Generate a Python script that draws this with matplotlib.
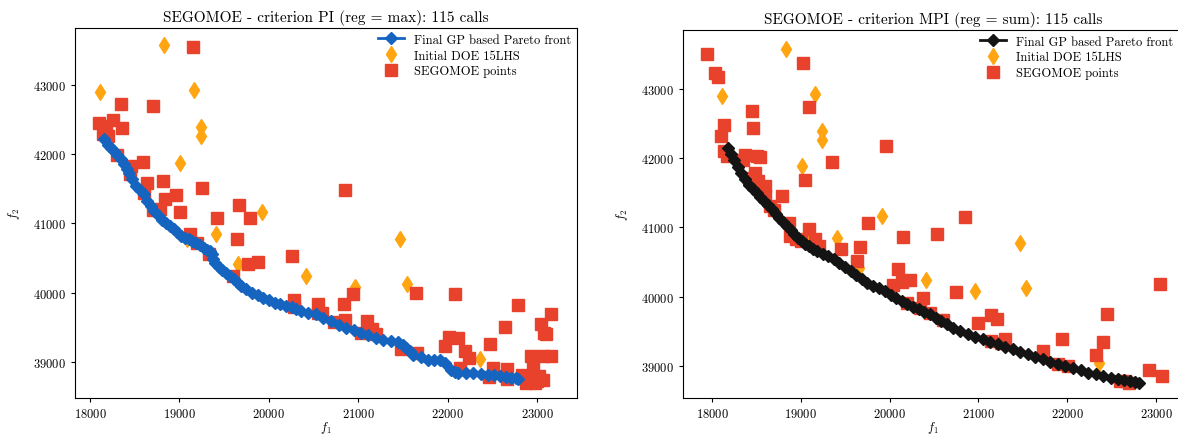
import matplotlib
matplotlib.use('Agg')
from matplotlib import pyplot
import numpy

# initial DOE (15 LHS points), same in both runs
doe_f1 = [18109, 18830, 19165, 19241, 19241, 19010, 19919, 19408, 19090,
          19660, 20414, 20959, 21470, 21541, 22363]
doe_f2 = [42894, 43584, 42928, 42397, 42267, 41881, 41167, 40843, 40771,
          40409, 40240, 40086, 40771, 40129, 39048]

# criterion PI (reg = max)
pi_front_f1 = [18159, 18200, 18230, 18264, 18300, 18348, 18380, 18410, 18432, 18470,
               18516, 18560, 18599, 18640, 18683, 18720, 18767, 18810, 18851, 18890,
               18935, 18975, 19018, 19060, 19102, 19140, 19186, 19230, 19270, 19310,
               19340, 19365, 19380, 19400, 19440, 19480, 19521, 19560, 19605, 19650,
               19689, 19750, 19815, 19880, 19940, 20000, 20066, 20130, 20192, 20260,
               20300, 20360, 20440, 20527, 20610, 20695, 20780, 20863, 20950, 21030,
               21110, 21198, 21280, 21365, 21450, 21500, 21533, 21575, 21617, 21700,
               21784, 21850, 21910, 21970, 22036, 22080, 22120, 22200, 22287, 22370,
               22455, 22520, 22581, 22650, 22707, 22760, 22790]
pi_front_f2 = [42218, 42130, 42090, 42049, 41990, 41929, 41860, 41790, 41736, 41640,
               41543, 41480, 41422, 41330, 41253, 41180, 41109, 41050, 41012, 40960,
               40916, 40870, 40819, 40790, 40771, 40745, 40723, 40690, 40650, 40620,
               40600, 40560, 40490, 40430, 40370, 40330, 40288, 40240, 40192, 40140,
               40095, 40050, 39999, 39960, 39927, 39890, 39854, 39830, 39806, 39790,
               39760, 39733, 39710, 39685, 39640, 39589, 39540, 39492, 39455, 39420,
               39385, 39347, 39320, 39299, 39280, 39250, 39203, 39150, 39106, 39070,
               39034, 39030, 39034, 38980, 38889, 38860, 38841, 38840, 38841, 38830,
               38817, 38805, 38792, 38780, 38768, 38760, 38754]
pi_seg_f1 = [19153, 18105, 18180, 18256, 18356, 18348, 18704, 18147, 18201, 18453,
             18591, 18633, 18599, 18821, 18838, 18964, 19010, 19253, 18788, 19668,
             19417, 19794, 19639, 19123, 19333, 19765, 19878, 20263, 20854, 20276,
             20548, 20548, 20841, 20946, 20854, 20728, 21093, 21156, 21030, 21651,
             22082, 22782, 23159, 22644, 23042, 23076, 23097, 22476, 22020, 22116,
             21965, 22191, 22241, 22929, 23063, 23159, 22950, 22510, 22665, 22468,
             22665, 22832, 22916, 23000, 22874, 22979, 23063, 21483, 21659, 22141,
             20280, 20600, 21200, 18300, 18450, 18700, 19200, 19600, 22900, 23020]
pi_seg_f2 = [43545, 42450, 42411, 42498, 42387, 42725, 42701, 42291, 42267, 41832,
             41895, 41591, 41446, 41615, 41350, 41408, 41167, 41519, 41205, 41268,
             41075, 41075, 40781, 40843, 40554, 40409, 40448, 40530, 41480, 39888,
             39830, 39709, 39830, 39975, 39603, 39574, 39589, 39468, 39420, 39999,
             39984, 39816, 39685, 39502, 39541, 39420, 39396, 39261, 39362, 39347,
             39227, 39154, 39058, 39082, 39092, 39092, 38961, 38913, 38899, 38778,
             38754, 38817, 38745, 38720, 38696, 38696, 38745, 39179, 39130, 38913,
             39790, 39700, 39400, 41990, 41720, 41200, 40720, 40240, 38760, 38800]

# criterion MPI (reg = sum)
mpi_front_f1 = [18183, 18210, 18246, 18290, 18331, 18375, 18416, 18460, 18501, 18545,
                18586, 18630, 18671, 18715, 18756, 18800, 18840, 18885, 18925, 18970,
                19010, 19050, 19095, 19140, 19180, 19245, 19307, 19370, 19435, 19500,
                19562, 19625, 19690, 19750, 19817, 19880, 19944, 20010, 20072, 20135,
                20199, 20260, 20326, 20390, 20454, 20520, 20581, 20645, 20708, 20790,
                20878, 20960, 21048, 21130, 21218, 21300, 21388, 21470, 21557, 21640,
                21727, 21810, 21897, 21980, 22067, 22150, 22237, 22320, 22407, 22490,
                22577, 22640, 22703, 22760, 22809]
mpi_front_f2 = [42149, 42060, 41981, 41880, 41788, 41700, 41620, 41560, 41500, 41440,
                41380, 41320, 41260, 41200, 41139, 41080, 41019, 40960, 40899, 40850,
                40803, 40765, 40731, 40695, 40658, 40620, 40586, 40540, 40490, 40430,
                40370, 40310, 40250, 40200, 40154, 40120, 40082, 40030, 39985, 39935,
                39889, 39855, 39817, 39780, 39745, 39695, 39649, 39600, 39553, 39505,
                39457, 39420, 39384, 39348, 39312, 39276, 39240, 39204, 39168, 39132,
                39096, 39060, 39024, 39000, 38976, 38940, 38904, 38880, 38856, 38832,
                38808, 38795, 38783, 38765, 38750]
mpi_seg_f1 = [17941, 18034, 18068, 19019, 19087, 18450, 18458, 18140, 18098, 18132,
              18174, 18374, 18501, 18352, 18543, 19350, 19957, 19044, 18480, 18522,
              18565, 18594, 18790, 18649, 20844, 19753, 19095, 18870, 18883, 18947,
              19159, 19201, 20156, 20538, 19448, 19668, 19634, 20093, 20042, 20135,
              20232, 20742, 20381, 20997, 21146, 21210, 21295, 21146, 21727, 21939,
              22321, 22406, 22449, 23043, 22916, 23064, 22597, 21897, 22003, 20454,
              20339, 20199, 20602, 18420, 18600, 18700, 19000, 21250, 22650, 22700]
mpi_seg_f2 = [43505, 43231, 43173, 43375, 42740, 42678, 42437, 42486, 42317, 42101,
              42029, 42053, 42029, 41981, 42019, 41942, 42173, 41692, 41788, 41668,
              41548, 41452, 41461, 41308, 41154, 41067, 40971, 41067, 40875, 40827,
              40827, 40731, 40865, 40899, 40683, 40721, 40514, 40404, 40168, 40211,
              40240, 40067, 39985, 39615, 39730, 39682, 39384, 39360, 39216, 39384,
              39154, 39346, 39755, 40187, 38937, 38856, 38783, 39024, 39000, 39769,
              39841, 39913, 39663, 41720, 41600, 41250, 40800, 39330, 38780, 38760]

pyplot.rcParams.update({'font.family': 'cmr10', 'mathtext.fontset': 'cm',
                        'axes.formatter.use_mathtext': True, 'font.size': 9})

RED = '#e8412c'
ORANGE = '#ffa512'


def panel(ax, front_f1, front_f2, seg_f1, seg_f2, front_color, title, xlim, ylim, legend_at):
    ax.plot(front_f1, front_f2, '-D', color=front_color, markersize=6.5, linewidth=2,
            zorder=4, label='Final GP based Pareto front')
    ax.plot(doe_f1, doe_f2, 'd', color=ORANGE, markersize=8, linestyle='none',
            zorder=2, label='Initial DOE 15LHS')
    ax.plot(seg_f1, seg_f2, 's', color=RED, markersize=8, linestyle='none',
            zorder=3, label='SEGOMOE points')
    ax.set_xlim(*xlim)
    ax.set_ylim(*ylim)
    ax.set_xticks([18000, 19000, 20000, 21000, 22000, 23000])
    ax.set_yticks([39000, 40000, 41000, 42000, 43000])
    ax.set_title(title, fontsize=11, pad=5)
    ax.set_xlabel('$f_1$', fontsize=9, labelpad=-1)
    ax.set_ylabel('$f_2$', fontsize=9, labelpad=8)
    ax.tick_params(length=3, labelsize=9)
    ax.legend(loc='upper left', bbox_to_anchor=legend_at, frameon=False, fontsize=9,
              borderpad=0, borderaxespad=0, handlelength=2.1, handletextpad=0.8,
              labelspacing=0.3)


fig = pyplot.figure(figsize=(11.78, 4.35), dpi=100)
ax1 = fig.add_axes([0.0637, 0.0828, 0.4261, 0.8506])
ax2 = fig.add_axes([0.5798, 0.0828, 0.4244, 0.846])

panel(ax1, pi_front_f1, pi_front_f2, pi_seg_f1, pi_seg_f2, '#1565c0',
      'SEGOMOE - criterion PI (reg = max): 115 calls',
      (17832, 23447), (38478, 43826), (0.604, 0.985))
panel(ax2, mpi_front_f1, mpi_front_f2, mpi_seg_f1, mpi_seg_f2, '#141414',
      'SEGOMOE - criterion MPI (reg = sum): 115 calls',
      (17673, 23303), (38538, 43852), (0.594, 0.985))

fig.savefig('out.png', dpi=100)
